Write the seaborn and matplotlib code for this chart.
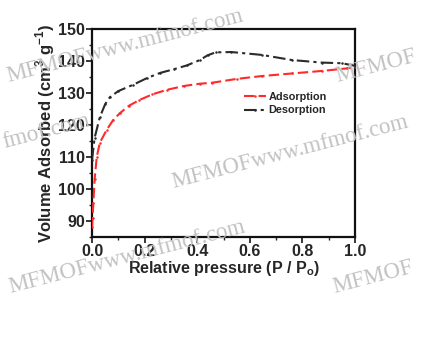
import matplotlib
matplotlib.use("Agg")
import matplotlib.pyplot as plt
from matplotlib.ticker import MultipleLocator
import seaborn as sns
import pandas as pd

sns.set_theme(style="ticks")
plt.rcParams["font.family"] = ["Liberation Sans", "DejaVu Sans"]

# N2 isotherm: relative pressure vs adsorbed volume
ads_p = [0.0, 0.002, 0.005, 0.01, 0.018, 0.03, 0.056, 0.08, 0.106, 0.14, 0.18,
         0.23, 0.285, 0.35, 0.41, 0.456, 0.55, 0.646, 0.76, 0.875, 0.97, 1.0]
ads_v = [88.0, 91.0, 95.5, 103.0, 110.0, 114.5, 118.5, 121.5, 123.7, 126.0, 127.8,
         129.6, 131.0, 132.2, 132.9, 133.2, 134.4, 135.3, 136.1, 136.9, 137.7, 138.0]

des_p = [0.0, 0.01, 0.03, 0.05, 0.068, 0.1, 0.157, 0.21, 0.26, 0.31, 0.36,
         0.41, 0.44, 0.47, 0.53, 0.646, 0.76, 0.875, 0.95, 1.0]
des_v = [109.0, 116.0, 122.5, 126.5, 128.7, 130.6, 132.6, 134.7, 136.3, 137.4, 138.6,
         140.3, 141.8, 142.7, 142.8, 141.9, 140.3, 139.5, 139.3, 138.5]

df = pd.concat([
    pd.DataFrame({"p": ads_p, "v": ads_v, "branch": "Adsorption"}),
    pd.DataFrame({"p": des_p, "v": des_v, "branch": "Desorption"}),
])

W, H = 424, 341
fig = plt.figure(figsize=(W / 100, H / 100), dpi=100)
ax = fig.add_axes([92 / W, 1 - 237 / H, 263 / W, 208 / H])

# site watermark, laid over the figure in light grey
wm = dict(family="Liberation Serif", color="#c2c2c2", fontsize=16.5, rotation=14.5,
          rotation_mode="anchor", ha="left", va="baseline", zorder=10,
          transform=fig.transFigure)
for txt, x, y in [("MFMOFwww.mfmof.com", 8, 82),
                  ("fmof.com", 4, 148),
                  ("MFMOFwww.mfmof.com", 173, 188),
                  ("MFMOF", 337, 82),
                  ("MFMOFwww.mfmof.com", 10, 293),
                  ("MFMOF", 334, 293)]:
    fig.text(x / W, 1 - y / H, txt, **wm)

sns.lineplot(data=df, x="p", y="v", hue="branch",
             palette={"Adsorption": "#ff2a2a", "Desorption": "#2b2b2b"},
             style="branch", dashes={"Adsorption": (5, 2), "Desorption": (6, 2, 1.5, 2)},
             markers={"Adsorption": "o", "Desorption": "o"}, markersize=1.8,
             markeredgewidth=0.0, linewidth=1.5, sort=False, ax=ax, zorder=3)

ax.set_xlim(0.0, 1.0)
ax.set_ylim(85, 150)
ax.xaxis.set_minor_locator(MultipleLocator(0.1))
ax.yaxis.set_minor_locator(MultipleLocator(5))
ax.set_yticks([90, 100, 110, 120, 130, 140, 150])
ax.set_xticks([0.0, 0.2, 0.4, 0.6, 0.8, 1.0])
ax.set_xticklabels(["0.0", "0.2", "0.4", "0.6", "0.8", "1.0"])

for s in ax.spines.values():
    s.set_linewidth(1.6)
    s.set_color("#111111")
ax.tick_params(which="major", direction="out", length=4, width=1.3, labelsize=11.5, pad=1)
ax.tick_params(which="minor", direction="out", length=2.5, width=1.0)
for lab in ax.get_xticklabels() + ax.get_yticklabels():
    lab.set_fontweight("bold")

ax.set_xlabel("Relative pressure (P / P$_\\mathregular{o}$)", fontsize=11.5,
              fontweight="bold", labelpad=0)
ax.set_ylabel("Volume Adsorbed (cm$^\\mathregular{3}$ g$^\\mathregular{-1}$)", fontsize=12,
              fontweight="bold", labelpad=1)

leg = ax.legend(loc="upper left", bbox_to_anchor=(0.56, 0.72), frameon=False,
                fontsize=7.8, handlelength=2.1, handletextpad=0.2, labelspacing=0.35,
                borderaxespad=0)
for t in leg.get_texts():
    t.set_fontweight("bold")

fig.savefig("out.png", dpi=100, facecolor="white")
